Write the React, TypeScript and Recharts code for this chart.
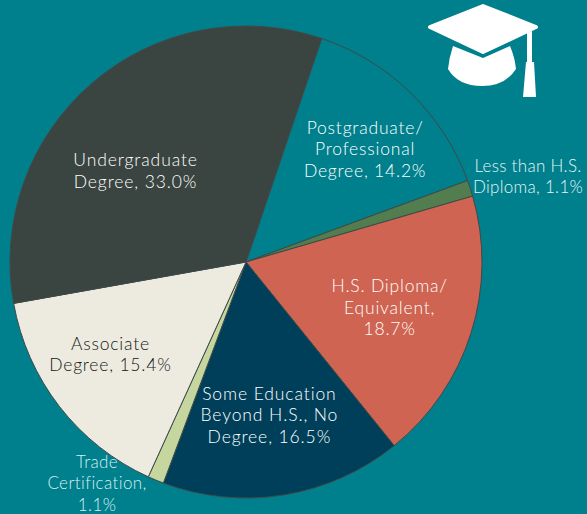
import { PieChart, Pie, Cell } from "recharts";

const CATEGORIES = [
  ["Postgraduate/", "Professional", "Degree, 14.2%"],
  ["Less than H.S.", "Diploma, 1.1%"],
  ["H.S. Diploma/", "Equivalent,", "18.7%"],
  ["Some Education", "Beyond H.S., No", "Degree, 16.5%"],
  ["Trade", "Certification,", "1.1%"],
  ["Associate", "Degree, 15.4%"],
  ["Undergraduate", "Degree, 33.0%"],
];
const VALUES = [14.2, 1.1, 18.7, 16.5, 1.1, 15.4, 33.0];
const COLORS = ["#007F8C", "#527D4F", "#CE6451", "#003F5A", "#C5D79E", "#EDEAE0", "#3A4440"];
const TEXT_COLORS = ["#FFFFFF", "#E4F6F6", "#FFFFFF", "#FFFFFF", "#D4F0F0", "#111816", "#FFFFFF"];
// offset of each label from the middle of its slice
const LABEL_NUDGE = [[17, -9], [143, -41], [4, 1], [0, 8], [-93, 85], [-20, 2], [-15, 19]];
const LABEL_SIZE = [17.5, 17, 17.5, 17.5, 17, 17.5, 17.5];
const LABEL_SPACING = [0.8, 0.3, 0.8, 0.9, 0.4, 0.8, 0.9];

const FONT = "Lato, sans-serif";
const LINE_HEIGHT = 21.5;
const RADIAN = Math.PI / 180;

const data = VALUES.map((value, i) => ({ name: CATEGORIES[i].join(" "), value }));

function renderLabel(props: any) {
  const { cx, cy, midAngle, outerRadius, index } = props;
  const r = outerRadius * 0.62;
  const x = cx + r * Math.cos(-midAngle * RADIAN) + LABEL_NUDGE[index][0];
  const y = cy + r * Math.sin(-midAngle * RADIAN) + LABEL_NUDGE[index][1];
  const lines = CATEGORIES[index];
  const top = y - ((lines.length - 1) * LINE_HEIGHT) / 2;
  return (
    <text
      key={index}
      textAnchor="middle"
      dominantBaseline="central"
      fontFamily={FONT}
      fontWeight={300}
      fontSize={LABEL_SIZE[index]}
      letterSpacing={LABEL_SPACING[index]}
      fill={TEXT_COLORS[index]}
    >
      {lines.map((line, i) => (
        <tspan key={i} x={x} y={top + i * LINE_HEIGHT}>{line}</tspan>
      ))}
    </text>
  );
}

function CapIcon() {
  return (
    <svg width={587} height={514} style={{ position: "absolute", left: 0, top: 0 }}>
      <path d="M483 6 L536 27 L483 52 L430 27 Z" fill="#fff" stroke="#fff" strokeWidth={4} strokeLinejoin="round" />
      <path d="M453 46 L483 58 L510 46 Q515 58 516 69 Q505 86 482 86 Q458 86 448 69 Q449 58 453 46 Z" fill="#fff" />
      <path d="M527 33 L532 31 L532 62 L534 62 L536 97 L523 97 L526 62 L527 62 Z" fill="#fff" />
    </svg>
  );
}

export default function App() {
  return (
    <div style={{ position: "absolute", left: 0, top: 0, width: 587, height: 514, background: "#007F8C", overflow: "hidden" }}>
      <PieChart width={587} height={514} margin={{ top: 0, right: 0, bottom: 0, left: 0 }}>
        <Pie
          data={data}
          dataKey="value"
          cx={246}
          cy={262}
          innerRadius={0}
          outerRadius={236}
          startAngle={71.3}
          endAngle={-288.7}
          stroke="#3F4A4A"
          strokeWidth={1}
          label={renderLabel}
          labelLine={false}
          isAnimationActive={false}
        >
          {data.map((d, i) => (
            <Cell key={d.name} fill={COLORS[i]} />
          ))}
        </Pie>
      </PieChart>
      <CapIcon />
    </div>
  );
}
